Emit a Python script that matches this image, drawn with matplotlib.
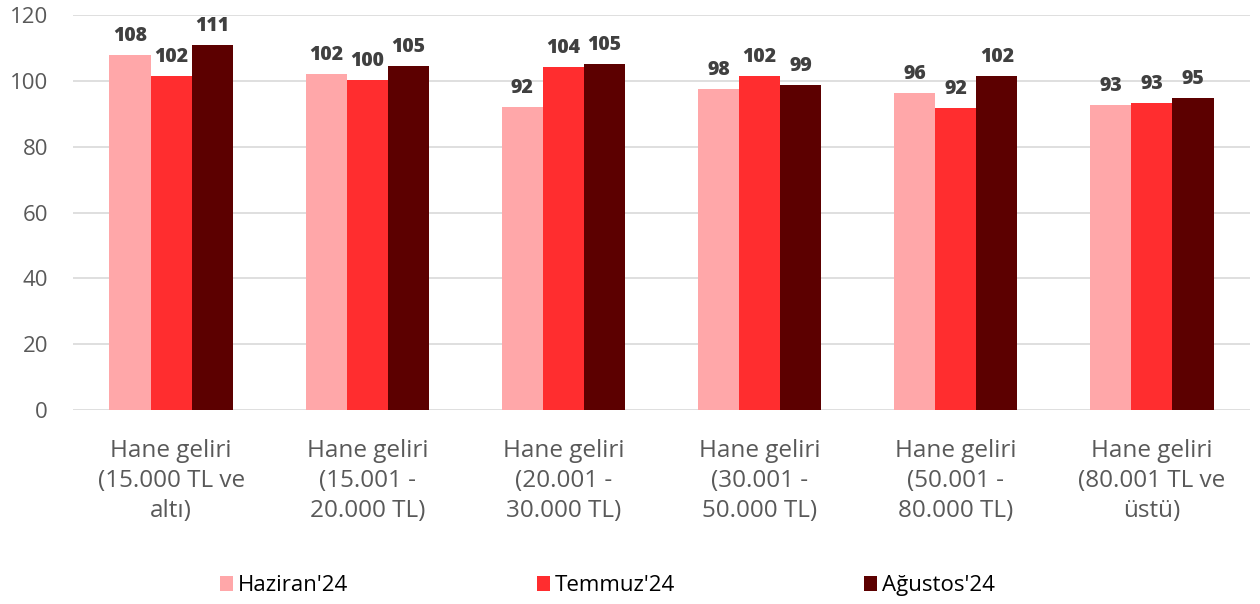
import matplotlib.pyplot as plt
import numpy as np

categories = ["Hane geliri\n(15.000 TL ve\naltı)", "Hane geliri\n(15.001 -\n20.000 TL)",
              "Hane geliri\n(20.001 -\n30.000 TL)", "Hane geliri\n(30.001 -\n50.000 TL)",
              "Hane geliri\n(50.001 -\n80.000 TL)", "Hane geliri\n(80.001 TL ve\nüstü)"]
haziran = [107.9, 102.1, 92.1, 97.6, 96.4, 92.7]
temmuz = [101.5, 100.3, 104.3, 101.5, 91.8, 93.3]
agustos = [110.9, 104.6, 105.2, 98.8, 101.5, 94.7]
series_names = ["Haziran'24", "Temmuz'24", "Ağustos'24"]
colors = ["#FFA7A9", "#FF2D2F", "#5C0000"]

plt.rcParams['font.family'] = ['Open Sans', 'DejaVu Sans']

fig = plt.figure(figsize=(12.6, 6.04), dpi=100)
ax = fig.add_axes([0.058, 0.321, 0.934, 0.654])

x = np.arange(len(categories))
w = 0.21
for i, (vals, name, c) in enumerate(zip([haziran, temmuz, agustos], series_names, colors)):
    bars = ax.bar(x + (i - 1) * w, vals, w, color=c, label=name, zorder=3)
    for b, v in zip(bars, vals):
        ax.text(b.get_x() + b.get_width() / 2, v + 2.8, f"{v:.0f}", ha="center", va="bottom",
                fontsize=14, fontweight="heavy", color="#404040")

ax.set_ylim(0, 120)
ax.set_xlim(-0.5, len(categories) - 0.5)
ax.set_yticks(range(0, 121, 20))
ax.yaxis.grid(True, color="#D9D9D9", linewidth=1.2, zorder=0)
for s in ["top", "right", "left", "bottom"]:
    ax.spines[s].set_visible(False)
ax.tick_params(axis="both", length=0, labelcolor="#595959")
ax.tick_params(axis="y", pad=18, labelsize=16)
ax.tick_params(axis="x", pad=21)
ax.set_xticks(x)
ax.set_xticklabels(categories, fontsize=17.5, linespacing=1.32)

fig.legend(loc="center", bbox_to_anchor=(0.482, 0.03), ncol=3, frameon=False,
           fontsize=16, columnspacing=8.5, handlelength=0.6, handleheight=0.6, handletextpad=0.2)

fig.savefig("out.png", dpi=100)
